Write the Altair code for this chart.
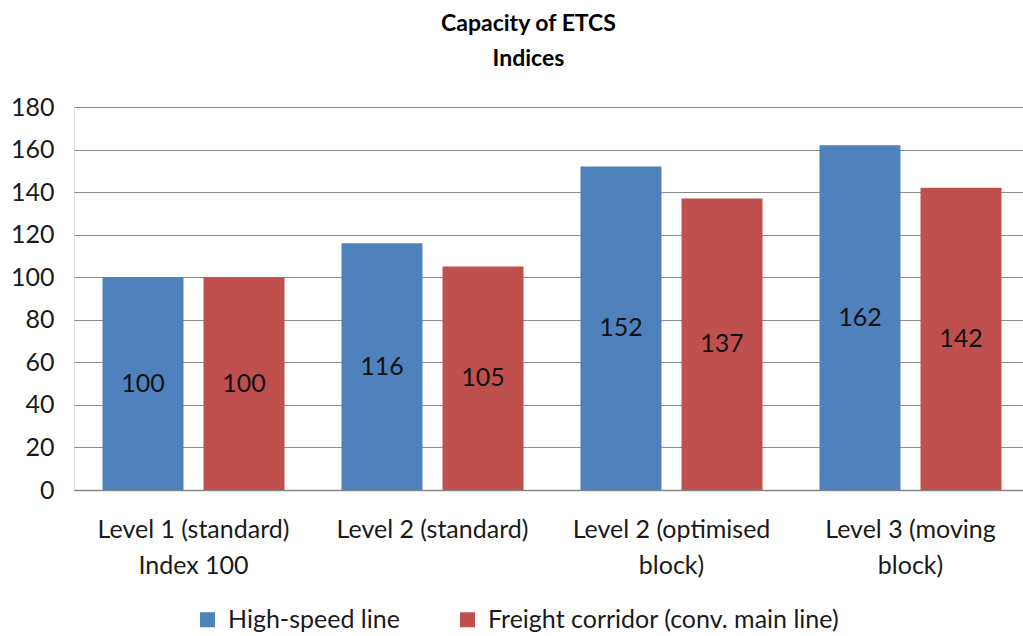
import altair as alt
import pandas as pd

categories = [
    "Level 1 (standard)\nIndex 100",
    "Level 2 (standard)",
    "Level 2 (optimised\nblock)",
    "Level 3 (moving\nblock)",
]
series = ["High-speed line", "Freight corridor (conv. main line)"]
high_speed = [100, 116, 152, 162]
freight = [100, 105, 137, 142]
colors = ["#4F81BD", "#C0504D"]

rows = []
for cat, hs, fr in zip(categories, high_speed, freight):
    rows.append({"category": cat, "series": series[0], "value": hs})
    rows.append({"category": cat, "series": series[1], "value": fr})
df = pd.DataFrame(rows)

FONT = "Lato"

x_enc = alt.X(
    "category:N",
    sort=categories,
    title=None,
    scale=alt.Scale(paddingInner=0, paddingOuter=0, range=[0, 956]),
    axis=alt.Axis(
        labelExpr="split(datum.label, '\\n')",
        labelAngle=0,
        labelFont=FONT,
        labelFontSize=25,
        labelColor="#1a1a1a",
        labelPadding=27,
        labelLineHeight=36,
        labelBaseline="top",
        labelLimit=400,
        domainColor="#868686",
        domainWidth=1.5,
        ticks=False,
        grid=False,
    ),
)
xoff_enc = alt.XOffset(
    "series:N",
    sort=series,
    scale=alt.Scale(paddingInner=0.198, paddingOuter=0.282),
)

bars = alt.Chart(df).mark_bar().encode(
    x=x_enc,
    xOffset=xoff_enc,
    y=alt.Y(
        "value:Q",
        title=None,
        scale=alt.Scale(domain=[0, 180], nice=False),
        axis=alt.Axis(
            values=list(range(0, 181, 20)),
            labelFont=FONT,
            labelFontSize=25,
            labelColor="#1a1a1a",
            labelPadding=20,
            domain=False,
            ticks=False,
            gridColor="#8c8c8c",
            gridWidth=1,
        ),
    ),
    color=alt.Color(
        "series:N",
        sort=series,
        scale=alt.Scale(domain=series, range=colors),
        legend=alt.Legend(
            title=None,
            orient="none",
            direction="horizontal",
            legendX=121,
            legendY=500,
            symbolType="square",
            symbolSize=225,
            symbolStrokeWidth=0,
            labelFont=FONT,
            labelFontSize=25,
            labelColor="#1a1a1a",
            labelOffset=8,
            labelLimit=500,
            columnPadding=55,
        ),
    ),
)

labels = alt.Chart(df).transform_calculate(
    mid="datum.value / 2"
).mark_text(font=FONT, fontSize=25, color="#111111", baseline="middle").encode(
    x=alt.X("category:N", sort=categories),
    xOffset=alt.XOffset("series:N", sort=series),
    y=alt.Y("mid:Q"),
    text=alt.Text("value:Q"),
)

chart = (
    alt.layer(bars, labels)
    .properties(
        width=949,
        height=383,
        padding={"left": 74, "top": 107, "right": 0, "bottom": 146},
        autosize=alt.AutoSizeParams(type="none"),
        title=alt.TitleParams(
            text=["Capacity of ETCS", "Indices"],
            font=FONT,
            fontSize=23,
            fontWeight="bold",
            color="#000000",
            lineHeight=35,
            anchor="middle",
            dx=-20,
            offset=24,
        ),
    )
    .configure_view(stroke=None)
    .configure(background="white")
)

chart.save("out.html", embed_options={"renderer": "svg", "actions": False})
